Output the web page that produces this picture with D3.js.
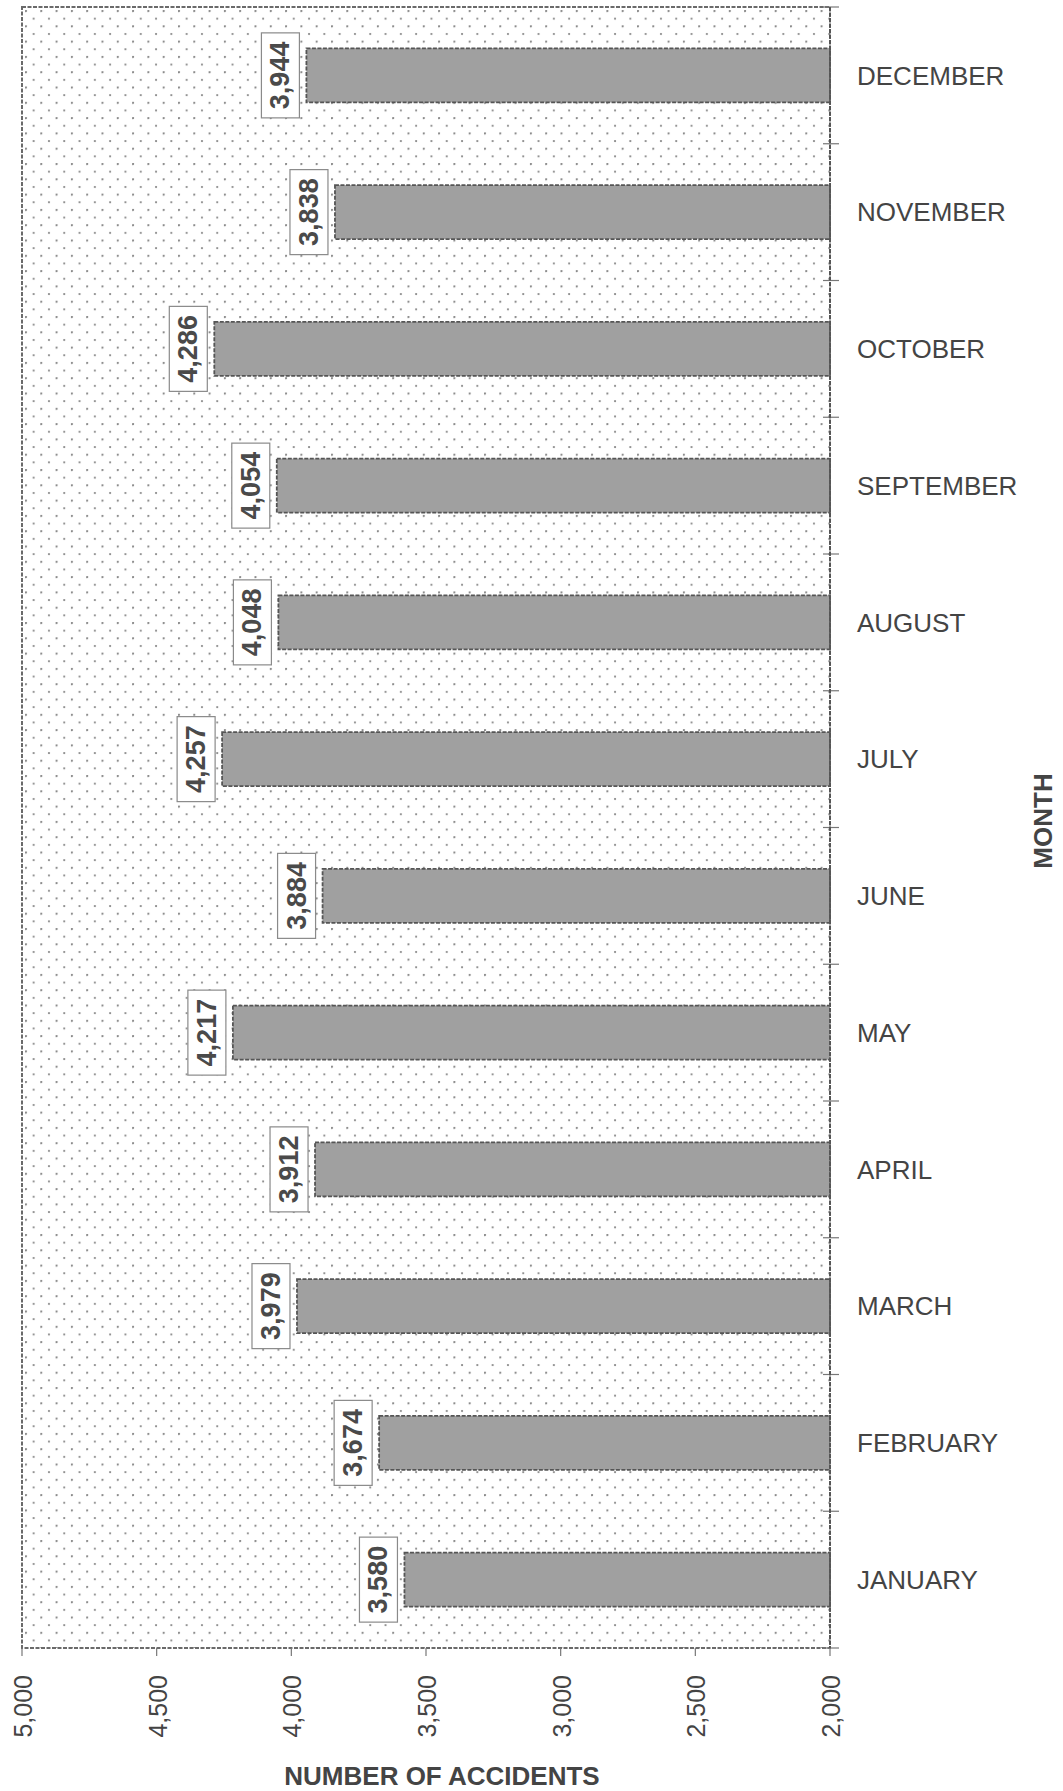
<!DOCTYPE html>
<html><head><meta charset="utf-8">
<script src="https://cdn.jsdelivr.net/npm/d3@7"></script>
<style>
html,body{margin:0;padding:0;background:#fff;}
svg{display:block;font-family:Arial,"Liberation Sans",sans-serif;}
</style></head>
<body>
<svg id="chart" width="1063" height="1791"></svg>
<script>
const months = ["DECEMBER","NOVEMBER","OCTOBER","SEPTEMBER","AUGUST","JULY","JUNE","MAY","APRIL","MARCH","FEBRUARY","JANUARY"];
const accidents = [3944,3838,4286,4054,4048,4257,3884,4217,3912,3979,3674,3580];
const xTicks = [5000,4500,4000,3500,3000,2500,2000];
const xTitle = "NUMBER OF ACCIDENTS";
const yTitle = "MONTH";

const svg = d3.select("#chart");
const L = 22, R = 830, T = 7, B = 1648;
const x = d3.scaleLinear().domain([5000,2000]).range([L,R]);
const y = d3.scaleBand().domain(months).range([T,B]).paddingInner(0.605).paddingOuter(0.3025);
const fmt = d3.format(",");

const defs = svg.append("defs");
const pat = defs.append("pattern").attr("id","dots").attr("patternUnits","userSpaceOnUse")
  .attr("x",L+3).attr("y",T+3).attr("width",15.3).attr("height",15.3);
pat.append("rect").attr("width",15.3).attr("height",15.3).attr("fill","#fff");
pat.append("circle").attr("cx",1).attr("cy",1).attr("r",1.1).attr("fill","#858585");
pat.append("circle").attr("cx",8.65).attr("cy",8.65).attr("r",1.1).attr("fill","#858585");

// plot area
svg.append("rect").attr("x",L).attr("y",T).attr("width",R-L).attr("height",B-T)
  .attr("fill","url(#dots)").attr("stroke","#6a6a6a").attr("stroke-width",2).attr("stroke-dasharray","4,1.5");

// bars
const n = months.length;
svg.append("g").selectAll("rect").data(months).join("rect")
  .attr("x",(d,i)=>x(accidents[i])).attr("y",d=>y(d))
  .attr("width",(d,i)=>x(2000)-x(accidents[i])).attr("height",y.bandwidth())
  .attr("fill","#a0a0a0").attr("stroke","#555").attr("stroke-width",1.8).attr("stroke-dasharray","4,1.5");

// value labels
const lab = svg.append("g").selectAll("g").data(months).join("g")
  .attr("transform",(d,i)=>`translate(${x(accidents[i])-7},${y(d)+y.bandwidth()/2})`);
lab.append("rect").attr("x",-38).attr("y",-42.5).attr("width",38).attr("height",85)
  .attr("fill","#fff").attr("stroke","#8a8a8a").attr("stroke-width",1.2);
lab.append("text").attr("transform","translate(-10,0) rotate(-90)")
  .attr("text-anchor","middle").attr("font-size",27).attr("font-weight","bold").attr("fill","#4a4a4a")
  .text((d,i)=>fmt(accidents[i]));

// right axis ticks at band boundaries
const step = y.step();
const bounds = d3.range(n+1).map(i=>T+i*step);
svg.append("g").selectAll("line").data(bounds).join("line")
  .attr("x1",R-7).attr("x2",R+9).attr("y1",d=>d).attr("y2",d=>d)
  .attr("stroke","#777").attr("stroke-width",1.2);
svg.append("line").attr("x1",R).attr("x2",R).attr("y1",T).attr("y2",B).attr("stroke","#555").attr("stroke-width",2).attr("stroke-dasharray","4,1.5");

// month labels
svg.append("g").selectAll("text").data(months).join("text")
  .attr("x",857).attr("y",d=>y(d)+y.bandwidth()/2).attr("dy","0.36em")
  .attr("font-size",26).attr("fill","#444").text(d=>d);

// bottom axis
svg.append("g").selectAll("line").data(xTicks).join("line")
  .attr("x1",d=>x(d)).attr("x2",d=>x(d)).attr("y1",B).attr("y2",B+8)
  .attr("stroke","#777").attr("stroke-width",1.2);
svg.append("g").selectAll("text").data(xTicks).join("text")
  .attr("transform",d=>`translate(${x(d)+10},${B+27}) rotate(-90)`)
  .attr("text-anchor","end").attr("font-size",25).attr("fill","#444").text(d=>fmt(d));

// titles
svg.append("text").attr("x",442).attr("y",1785).attr("text-anchor","middle")
  .attr("font-size",26).attr("font-weight","bold").attr("fill","#444").text(xTitle);
svg.append("text").attr("transform","translate(1052,821) rotate(-90)").attr("text-anchor","middle")
  .attr("font-size",26).attr("font-weight","bold").attr("fill","#444").text(yTitle);
</script>
</body></html>
